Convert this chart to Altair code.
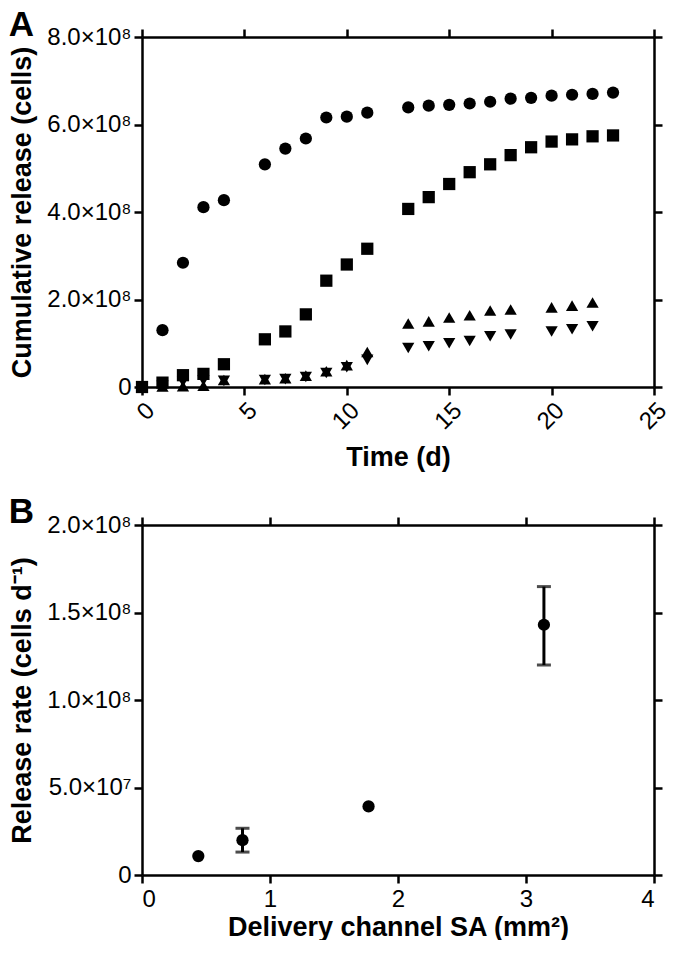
import altair as alt
import pandas as pd

FONT = "Liberation Sans"

# ---------------- Panel A data (cells, x1e8) ----------------
days_main = [0, 1, 2, 3, 4, 6, 7, 8, 9, 10, 11, 13, 14, 15, 16, 17, 18, 19, 20, 21, 22, 23]
circle_vals = [0.0, 1.30, 2.84, 4.11, 4.27, 5.09, 5.45, 5.68, 6.16, 6.18, 6.27,
               6.39, 6.43, 6.45, 6.48, 6.52, 6.59, 6.61, 6.66, 6.68, 6.70, 6.73]
square_vals = [0.0, 0.10, 0.27, 0.30, 0.52, 1.09, 1.27, 1.66, 2.43, 2.80, 3.16,
               4.07, 4.34, 4.64, 4.91, 5.09, 5.30, 5.48, 5.61, 5.66, 5.73, 5.75]
days_tri = [0, 1, 2, 3, 4, 6, 7, 8, 9, 10, 11, 13, 14, 15, 16, 17, 18, 20, 21, 22]
tri_up_vals = [0.0, 0.01, 0.02, 0.03, 0.16, 0.18, 0.20, 0.26, 0.36, 0.50, 0.80,
               1.45, 1.50, 1.59, 1.64, 1.75, 1.77, 1.82, 1.86, 1.93]
tri_down_vals = [0.0, 0.03, 0.12, 0.15, 0.14, 0.16, 0.18, 0.23, 0.32, 0.45, 0.62,
                 0.89, 0.93, 1.00, 1.05, 1.16, 1.20, 1.27, 1.32, 1.39]
series_names = ["S1", "S2", "S3", "S4"]
series_shapes = ["circle", "square", "triangle-up", "triangle-down"]
x_ticks_A = [0, 5, 10, 15, 20, 25]
y_ticks_A = [0, 2e8, 4e8, 6e8, 8e8]

# ---------------- Panel B data ----------------
sa_vals = [0.44, 0.785, 1.77, 3.14]
rate_vals = [1.08e7, 1.99e7, 3.92e7, 1.43e8]
err_sa = [0.785, 3.14]
err_low = [1.31e7, 1.20e8]
err_high = [2.67e7, 1.648e8]
x_ticks_B = [0, 1, 2, 3, 4]
y_ticks_B = [0, 5e7, 1e8, 1.5e8, 2e8]

rows = []
for d, v in zip(days_main, circle_vals):
    rows.append({"day": d, "value": v * 1e8, "series": series_names[0]})
for d, v in zip(days_main, square_vals):
    rows.append({"day": d, "value": v * 1e8, "series": series_names[1]})
for d, v in zip(days_tri, tri_up_vals):
    rows.append({"day": d, "value": v * 1e8, "series": series_names[2]})
for d, v in zip(days_tri, tri_down_vals):
    rows.append({"day": d, "value": v * 1e8, "series": series_names[3]})
dfA = pd.DataFrame(rows)

dfB = pd.DataFrame({"sa": sa_vals, "rate": rate_vals})
dfE = pd.DataFrame({"sa": err_sa, "lo": err_low, "hi": err_high})

label_expr = ("datum.value == 0 ? '0' : (datum.value >= 1e8 ? "
              "format(datum.value/1e8, '.1f') + '×10⁸' : "
              "format(datum.value/1e7, '.1f') + '×10⁷')")

W, H = 512, 350

# ---------------- Panel A ----------------
xsA = alt.Scale(domain=[0, 25], nice=False, zero=False)
ysA = alt.Scale(domain=[0, 8e8], nice=False)

ptsA = alt.Chart(dfA).mark_point(filled=True, size=150, opacity=1, color="black").encode(
    x=alt.X("day:Q", scale=xsA,
            axis=alt.Axis(values=x_ticks_A, labelAngle=315, title="Time (d)", titlePadding=11)),
    y=alt.Y("value:Q", scale=ysA,
            axis=alt.Axis(values=y_ticks_A, labelExpr=label_expr,
                          title="Cumulative release (cells)", titlePadding=10)),
    shape=alt.Shape("series:N", scale=alt.Scale(domain=series_names, range=series_shapes), legend=None),
)
mirA = alt.Chart(dfA).mark_point(opacity=0).encode(
    x=alt.X("day:Q", scale=xsA, axis=alt.Axis(orient="top", values=x_ticks_A, labels=False, title=None)),
    y=alt.Y("value:Q", scale=ysA, axis=alt.Axis(orient="right", values=y_ticks_A, labels=False, title=None)),
)
panelA = alt.layer(ptsA, mirA).resolve_axis(x="independent", y="independent").properties(
    width=W, height=H,
    title=alt.TitleParams("A", anchor="start", frame="bounds", fontSize=35, fontWeight="bold", offset=-18),
)

# ---------------- Panel B ----------------
xsB = alt.Scale(domain=[0, 4], nice=False, zero=False)
ysB = alt.Scale(domain=[0, 2e8], nice=False)

ptsB = alt.Chart(dfB).mark_point(filled=True, size=150, opacity=1, color="black", shape="circle").encode(
    x=alt.X("sa:Q", scale=xsB,
            axis=alt.Axis(values=x_ticks_B, title="Delivery channel SA (mm²)",
                          labelPadding=4, titlePadding=3)),
    y=alt.Y("rate:Q", scale=ysB,
            axis=alt.Axis(values=y_ticks_B, labelExpr=label_expr,
                          title="Release rate (cells d⁻¹)", titlePadding=10)),
)
ruleB = alt.Chart(dfE).mark_rule(strokeWidth=3, color="black").encode(
    x=alt.X("sa:Q", scale=xsB, axis=None), y=alt.Y("lo:Q", scale=ysB, axis=None), y2="hi:Q"
)
capLo = alt.Chart(dfE).mark_tick(orient="horizontal", size=14, thickness=3, color="black").encode(
    x=alt.X("sa:Q", scale=xsB, axis=None), y=alt.Y("lo:Q", scale=ysB, axis=None)
)
capHi = alt.Chart(dfE).mark_tick(orient="horizontal", size=14, thickness=3, color="black").encode(
    x=alt.X("sa:Q", scale=xsB, axis=None), y=alt.Y("hi:Q", scale=ysB, axis=None)
)
mirB = alt.Chart(dfB).mark_point(opacity=0).encode(
    x=alt.X("sa:Q", scale=xsB, axis=alt.Axis(orient="top", values=x_ticks_B, labels=False, title=None)),
    y=alt.Y("rate:Q", scale=ysB, axis=alt.Axis(orient="right", values=y_ticks_B, labels=False, title=None)),
)
panelB = alt.layer(ptsB, ruleB, capLo, capHi, mirB).resolve_axis(x="independent", y="independent").properties(
    width=W, height=H,
    title=alt.TitleParams("B", anchor="start", frame="bounds", fontSize=35, fontWeight="bold", offset=-17),
)

chart = alt.vconcat(panelA, panelB, spacing=24).configure_axis(
    domainColor="black", domainWidth=2.5, tickColor="black", tickWidth=2.5, tickSize=8,
    labelColor="black", labelFont=FONT, labelFontSize=24, labelPadding=3,
    titleFont=FONT, titleFontSize=27, titleFontWeight="bold", titleColor="black", grid=False,
).configure_view(stroke=None).configure_title(font=FONT, color="black").properties(padding=0)

chart.save("out.html", embed_options={"renderer": "svg", "actions": False})
